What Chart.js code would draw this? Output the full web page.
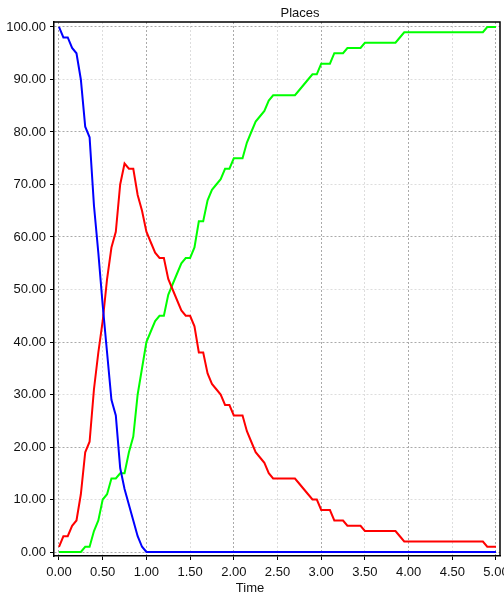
<!DOCTYPE html>
<html>
<head>
<meta charset="utf-8">
<script src="https://cdn.jsdelivr.net/npm/chart.js@4"></script>
<style>
  body { margin: 0; background: #fff; }
  #wrap { width: 504px; height: 600px; position: relative; }
</style>
</head>
<body>
<div id="wrap"><canvas id="chart"></canvas></div>
<script>
// sample times
const times = [
  0, 0.05, 0.1, 0.15, 0.2, 0.25, 0.3, 0.35, 0.4, 0.45,
  0.5, 0.55, 0.6, 0.65, 0.7, 0.75, 0.8, 0.85, 0.9, 0.95,
  1, 1.05, 1.1, 1.15, 1.2, 1.25, 1.3, 1.35, 1.4, 1.45,
  1.5, 1.55, 1.6, 1.65, 1.7, 1.75, 1.8, 1.85, 1.9, 1.95,
  2, 2.05, 2.1, 2.15, 2.2, 2.25, 2.3, 2.35, 2.4, 2.45,
  2.5, 2.55, 2.6, 2.65, 2.7, 2.75, 2.8, 2.85, 2.9, 2.95,
  3, 3.05, 3.1, 3.15, 3.2, 3.25, 3.3, 3.35, 3.4, 3.45,
  3.5, 3.55, 3.6, 3.65, 3.7, 3.75, 3.8, 3.85, 3.9, 3.95,
  4, 4.05, 4.1, 4.15, 4.2, 4.25, 4.3, 4.35, 4.4, 4.45,
  4.5, 4.55, 4.6, 4.65, 4.7, 4.75, 4.8, 4.85, 4.9, 4.95,
  5
];

// blue curve
const bluePlace = [
  100, 98, 98, 96, 95, 90, 81, 79, 66, 57,
  47, 38, 29, 26, 16, 12, 9, 6, 3, 1,
  0, 0, 0, 0, 0, 0, 0, 0, 0, 0,
  0, 0, 0, 0, 0, 0, 0, 0, 0, 0,
  0, 0, 0, 0, 0, 0, 0, 0, 0, 0,
  0, 0, 0, 0, 0, 0, 0, 0, 0, 0,
  0, 0, 0, 0, 0, 0, 0, 0, 0, 0,
  0, 0, 0, 0, 0, 0, 0, 0, 0, 0,
  0, 0, 0, 0, 0, 0, 0, 0, 0, 0,
  0, 0, 0, 0, 0, 0, 0, 0, 0, 0,
  0
];

// red curve
const redPlace = [
  1, 3, 3, 5, 6, 11, 19, 21, 31, 38,
  44, 52, 58, 61, 70, 74, 73, 73, 68, 65,
  61, 59, 57, 56, 56, 52, 50, 48, 46, 45,
  45, 43, 38, 38, 34, 32, 31, 30, 28, 28,
  26, 26, 26, 23, 21, 19, 18, 17, 15, 14,
  14, 14, 14, 14, 14, 13, 12, 11, 10, 10,
  8, 8, 8, 6, 6, 6, 5, 5, 5, 5,
  4, 4, 4, 4, 4, 4, 4, 4, 3, 2,
  2, 2, 2, 2, 2, 2, 2, 2, 2, 2,
  2, 2, 2, 2, 2, 2, 2, 2, 1, 1,
  1
];

// green curve
const greenPlace = [
  0, 0, 0, 0, 0, 0, 1, 1, 4, 6,
  10, 11, 14, 14, 15, 15, 19, 22, 30, 35,
  40, 42, 44, 45, 45, 49, 51, 53, 55, 56,
  56, 58, 63, 63, 67, 69, 70, 71, 73, 73,
  75, 75, 75, 78, 80, 82, 83, 84, 86, 87,
  87, 87, 87, 87, 87, 88, 89, 90, 91, 91,
  93, 93, 93, 95, 95, 95, 96, 96, 96, 96,
  97, 97, 97, 97, 97, 97, 97, 97, 98, 99,
  99, 99, 99, 99, 99, 99, 99, 99, 99, 99,
  99, 99, 99, 99, 99, 99, 99, 99, 100, 100,
  100
];

const xTicks = [0, 0.5, 1, 1.5, 2, 2.5, 3, 3.5, 4, 4.5, 5];
const yTicks = [0, 10, 20, 30, 40, 50, 60, 70, 80, 90, 100];
const chartTitle = 'Places';
const xTitle = 'Time';

const family = '"Liberation Sans", Arial, sans-serif';

const toPoints = arr => times.map((t, i) => ({ x: t, y: arr[i] }));

// frame on top/right plus title texts
const frameText = {
  id: 'frameText',
  afterDraw(chart) {
    const { ctx, chartArea: a } = chart;
    ctx.save();
    ctx.strokeStyle = '#000';
    ctx.lineWidth = 1.5;
    ctx.beginPath();
    ctx.moveTo(a.left, a.top);
    ctx.lineTo(a.right, a.top);
    ctx.lineTo(a.right, a.bottom);
    ctx.stroke();
    ctx.fillStyle = '#111';
    ctx.font = '13px ' + family;
    ctx.textAlign = 'center';
    ctx.textBaseline = 'middle';
    ctx.fillText(chartTitle, 300, 13);
    ctx.fillText(xTitle, 250, 588);
    ctx.restore();
  }
};

new Chart(document.getElementById('chart'), {
  type: 'line',
  data: {
    datasets: [
      { data: toPoints(bluePlace), borderColor: '#0000ff', borderWidth: 2, pointRadius: 0, tension: 0 },
      { data: toPoints(redPlace), borderColor: '#ff0000', borderWidth: 2, pointRadius: 0, tension: 0 },
      { data: toPoints(greenPlace), borderColor: '#00ff00', borderWidth: 2, pointRadius: 0, tension: 0 }
    ]
  },
  options: {
    responsive: true,
    maintainAspectRatio: false,
    animation: false,
    layout: { padding: { top: 22, right: 4, left: 0, bottom: 0 } },
    plugins: {
      legend: { display: false },
      title: { display: false },
      tooltip: { enabled: false }
    },
    scales: {
      x: {
        type: 'linear',
        min: -0.0572,
        max: 5.0458,
        afterBuildTicks: s => { s.ticks = xTicks.map(v => ({ value: v })); },
        afterFit: s => { s.height = 44; s.paddingLeft = 0; s.paddingRight = 0; },
        ticks: {
          callback: v => v.toFixed(2),
          color: '#111',
          font: { size: 13, family },
          padding: 5,
          maxRotation: 0,
          autoSkip: false
        },
        grid: {
          color: c => (c.tick && c.tick.value % 1 === 0) ? '#aaaaaa' : '#dddddd',
          lineWidth: 1,
          tickColor: '#000',
          tickLength: 4
        },
        border: { color: '#000', width: 1.5, dash: [2, 2] }
      },
      y: {
        type: 'linear',
        min: -0.76,
        max: 100.95,
        afterBuildTicks: s => { s.ticks = yTicks.map(v => ({ value: v })); },
        afterFit: s => { s.width = 54; s.paddingTop = 0; s.paddingBottom = 0; },
        ticks: {
          callback: v => v.toFixed(2),
          color: '#111',
          font: { size: 13, family },
          padding: 4,
          autoSkip: false
        },
        grid: {
          color: c => (c.tick && c.tick.value % 20 === 0) ? '#aaaaaa' : '#dddddd',
          lineWidth: 1,
          tickColor: '#000',
          tickLength: 4
        },
        border: { color: '#000', width: 1.5, dash: [2, 2] }
      }
    }
  },
  plugins: [frameText]
});
</script>
</body>
</html>
